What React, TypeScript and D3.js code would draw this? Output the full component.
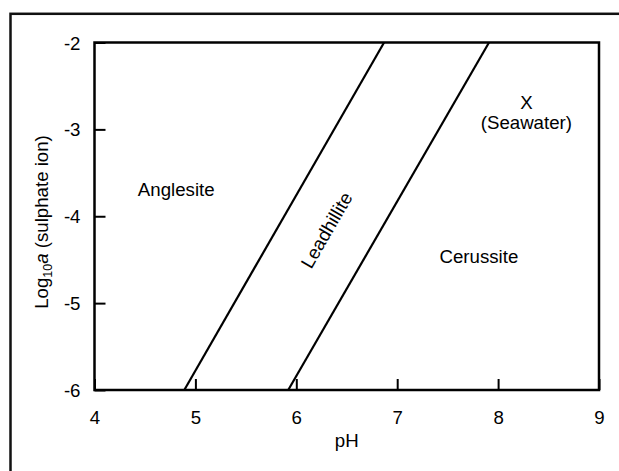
import React, { useEffect, useRef } from 'react';
import * as d3 from 'd3';

const xTicks = [4, 5, 6, 7, 8, 9];
const yTicks = [-2, -3, -4, -5, -6];

// phase boundaries: pH at log a = -6 and at log a = -2
const boundaryLogA = [-6, -2];
const anglesiteLeadhillite = [4.89, 6.87];
const leadhilliteCerussite = [5.92, 7.91];

const regionNames = ['Anglesite', 'Cerussite', 'X', '(Seawater)'];
const regionPH = [4.81, 7.81, 8.28, 8.28];
const regionLogA = [-3.77, -4.54, -2.77, -2.995];

const FONT = 'Liberation Sans, Arial, sans-serif';

export default function App() {
  const svgRef = useRef<SVGSVGElement | null>(null);

  useEffect(() => {
    const width = 619;
    const height = 471;
    const margin = { top: 42.5, right: 20, bottom: 81, left: 94.5 };
    const innerW = 599 - margin.left;
    const innerH = 390 - margin.top;

    const svg = d3.select(svgRef.current);
    svg.selectAll('*').remove();
    svg.attr('width', width).attr('height', height);

    svg.append('rect').attr('width', width).attr('height', height).attr('fill', '#fff');

    // outer frame
    svg.append('rect')
      .attr('x', 10.5).attr('y', 13.8)
      .attr('width', 700).attr('height', 600)
      .attr('fill', 'none').attr('stroke', '#111').attr('stroke-width', 2.5);

    const g = svg.append('g').attr('transform', `translate(${margin.left},${margin.top})`);

    const x = d3.scaleLinear().domain([4, 9]).range([0, innerW]);
    const y = d3.scaleLinear().domain([-6, -2]).range([innerH, 0]);

    // ticks inward
    const xAxis = g.append('g')
      .attr('transform', `translate(0,${innerH})`)
      .call(d3.axisBottom(x).tickValues(xTicks).tickSize(-11).tickPadding(34).tickFormat(d => String(d)));
    xAxis.select('.domain').remove();
    xAxis.selectAll('line').attr('stroke', '#000').attr('stroke-width', 2);
    xAxis.selectAll('text')
      .attr('font-family', FONT).attr('font-size', 18.67).attr('fill', '#000')
      .attr('dy', 0);

    const yAxis = g.append('g')
      .call(d3.axisLeft(y).tickValues(yTicks).tickSize(-11).tickPadding(14).tickFormat(d => String(d)));
    yAxis.select('.domain').remove();
    yAxis.selectAll('line').attr('stroke', '#000').attr('stroke-width', 2);
    yAxis.selectAll('text')
      .attr('font-family', FONT).attr('font-size', 18.67).attr('fill', '#000')
      .attr('dy', '0.35em');

    // plot border
    g.append('rect')
      .attr('width', innerW).attr('height', innerH)
      .attr('fill', 'none').attr('stroke', '#000').attr('stroke-width', 2.5);

    const line = d3.line<[number, number]>()
      .x(d => x(d[0]))
      .y(d => y(d[1]));

    [anglesiteLeadhillite, leadhilliteCerussite].forEach(b => {
      const pts: [number, number][] = b.map((ph, i) => [ph, boundaryLogA[i]]);
      g.append('path')
        .attr('d', line(pts))
        .attr('fill', 'none').attr('stroke', '#000').attr('stroke-width', 2.2);
    });

    regionNames.forEach((name, i) => {
      g.append('text')
        .attr('x', x(regionPH[i])).attr('y', y(regionLogA[i]))
        .attr('text-anchor', 'middle')
        .attr('font-family', FONT).attr('font-size', 18.67)
        .text(name);
    });

    // Leadhillite along the slope of the boundaries
    const angle = Math.atan2(y(-2) - y(-6), x(6.87) - x(4.89)) * 180 / Math.PI;
    const lx = x(6.30);
    const ly = y(-4.16);
    g.append('text')
      .attr('transform', `translate(${lx},${ly}) rotate(${angle})`)
      .attr('text-anchor', 'middle')
      .attr('dominant-baseline', 'central')
      .attr('font-family', FONT).attr('font-size', 18.67)
      .text('Leadhillite');

    g.append('text')
      .attr('x', innerW / 2).attr('y', 447 - margin.top)
      .attr('text-anchor', 'middle')
      .attr('font-family', FONT).attr('font-size', 18.67)
      .text('pH');

    const yl = svg.append('text')
      .attr('transform', `translate(48,222) rotate(-90)`)
      .attr('text-anchor', 'middle')
      .attr('font-family', FONT).attr('font-size', 18.67);
    yl.append('tspan').text('Log');
    yl.append('tspan').attr('font-size', 12.5).attr('dy', 4).text('10');
    yl.append('tspan').attr('font-style', 'italic').attr('dy', -4).text('a');
    yl.append('tspan').text(' (sulphate ion)');
  }, []);

  return (
    <div style={{ position: 'absolute', left: 0, top: 0 }}>
      <svg ref={svgRef} style={{ display: 'block' }} />
    </div>
  );
}
